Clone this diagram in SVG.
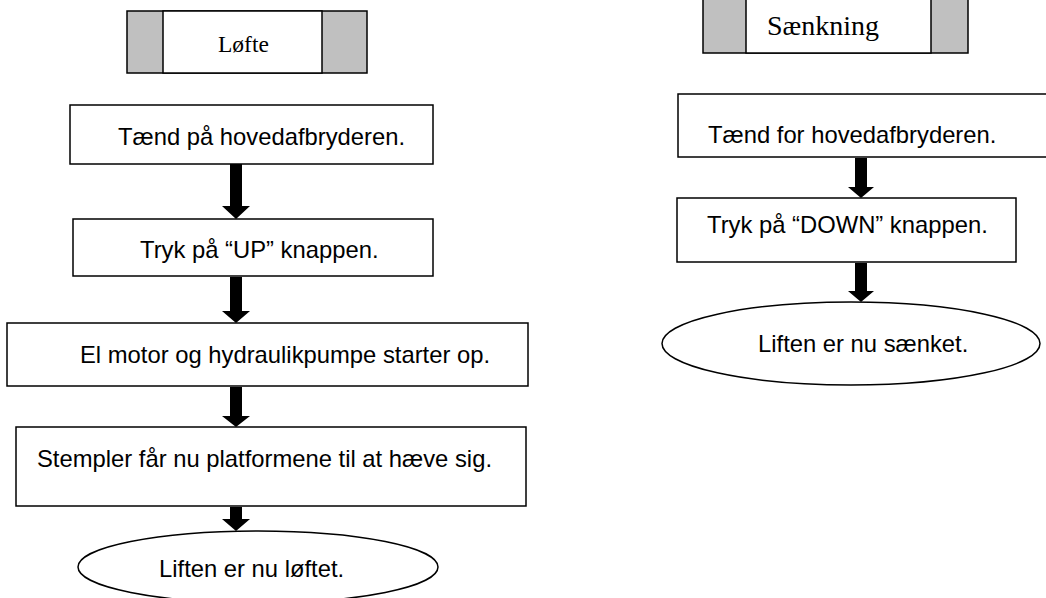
<svg xmlns="http://www.w3.org/2000/svg" width="1046" height="598" viewBox="0 0 1046 598">
<style>
.b{fill:#fff;stroke:#000;stroke-width:1.5}
.g{fill:#c0c0c0;stroke:#000;stroke-width:1.5}
.t{font-family:"Liberation Sans",Arial,sans-serif;font-size:23.8px;fill:#000}
.s{font-family:"Liberation Serif","Times New Roman",serif;fill:#000}
.a{fill:#000}
</style>
<rect width="1046" height="598" fill="#fff"/>
<g id="title-lofte">
<rect class="g" x="127" y="11" width="240" height="62"/>
<rect class="b" x="163" y="11" width="159" height="62"/>
<text class="s" x="218" y="52" font-size="23.5">Løfte</text>
</g>
<g id="title-saenkning">
<rect class="g" x="703" y="-5" width="265" height="58"/>
<rect class="b" x="746" y="-5" width="185" height="58"/>
<text class="s" x="767" y="35" font-size="28">Sænkning</text>
</g>
<g id="l1"><rect class="b" x="70" y="105" width="363" height="59"/><text class="t" x="118" y="145">Tænd på hovedafbryderen.</text></g>
<g id="l2"><rect class="b" x="73" y="219" width="360" height="57"/><text class="t" x="140" y="258">Tryk på “UP” knappen.</text></g>
<g id="l3"><rect class="b" x="7" y="323" width="521" height="63"/><text class="t" x="80" y="363">El motor og hydraulikpumpe starter op.</text></g>
<g id="l4"><rect class="b" x="16" y="427" width="510" height="79"/><text class="t" x="37" y="467">Stempler får nu platformene til at hæve sig.</text></g>
<g id="l5"><ellipse class="b" cx="258" cy="567" rx="180" ry="36"/><text class="t" x="159" y="577">Liften er nu løftet.</text></g>
<g id="r1"><rect class="b" x="678" y="94" width="380" height="63"/><text class="t" x="708" y="143">Tænd for hovedafbryderen.</text></g>
<g id="r2"><rect class="b" x="677" y="198" width="339" height="64"/><text class="t" x="707" y="233">Tryk på “DOWN” knappen.</text></g>
<g id="r3"><ellipse class="b" cx="851" cy="343.5" rx="189" ry="41.5"/><text class="t" x="758" y="352">Liften er nu sænket.</text></g>
<g id="connectors">
<polygon class="a" points="230,164 242,164 242,206 250,206 236,219 222,206 230,206"/>
<polygon class="a" points="230,277 242,277 242,311 250,311 236,323 222,311 230,311"/>
<polygon class="a" points="230,387 242,387 242,416 250,416 236,427 222,416 230,416"/>
<polygon class="a" points="230,507 242,507 242,519 250,519 236,531 222,519 230,519"/>
<polygon class="a" points="855,158 867,158 867,187 874,187 861,198 848,187 855,187"/>
<polygon class="a" points="855,263 867,263 867,291 874,291 861,302 848,291 855,291"/>
</g>
</svg>
